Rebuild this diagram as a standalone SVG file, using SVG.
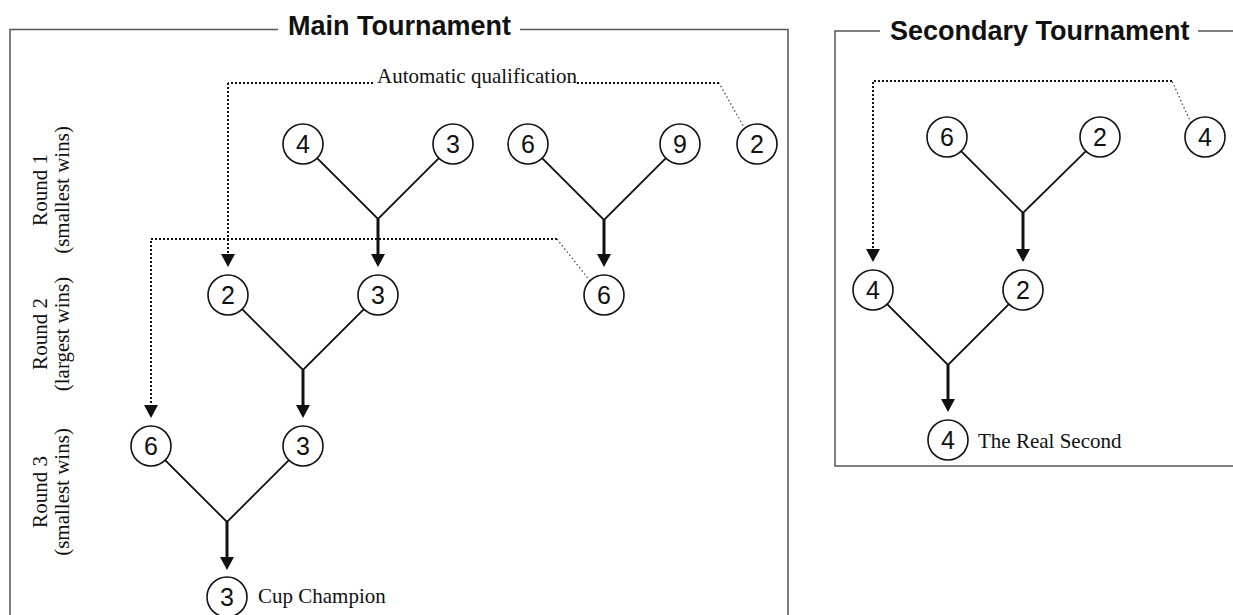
<svg xmlns="http://www.w3.org/2000/svg" width="1233" height="615" viewBox="0 0 1233 615">
<style>
.frame{fill:none;stroke:#555;stroke-width:1.5}
.title{font-family:"Liberation Sans",Arial,sans-serif;font-weight:bold;font-size:27px;fill:#111}
.node circle{fill:#fff;stroke:#111;stroke-width:1.6}
.num{font-family:"Liberation Sans",Arial,sans-serif;font-size:25px;fill:#111;text-anchor:middle}
.branch{fill:none;stroke:#111;stroke-width:1.8}
.adv{fill:none;stroke:#111;stroke-width:3;marker-end:url(#ah)}
.dot{fill:none;stroke:#111;stroke-width:2;stroke-dasharray:2 2}
.dota{fill:none;stroke:#111;stroke-width:2;stroke-dasharray:2 2;marker-end:url(#ah)}
.fine{fill:none;stroke:#444;stroke-width:1.2;stroke-dasharray:1.5 2.5}
.lbl{font-family:"Liberation Serif","Times New Roman",serif;font-size:21px;fill:#111}
.rl{font-family:"Liberation Serif","Times New Roman",serif;font-size:21px;fill:#111;text-anchor:middle}
</style>
<defs>
<marker id="ah" markerUnits="userSpaceOnUse" markerWidth="13" markerHeight="14" viewBox="0 0 13 14" refX="7" refY="7" orient="auto">
<path d="M0,0 L13,7 L0,14 Z" fill="#111"/>
</marker>
</defs>

<g id="frames">
<path class="frame" d="M278,29.5 H10 V615 M520,29.5 H788 V615"/>
<path class="frame" d="M880,31 H835 V466 H1233 M1198,31 H1233"/>
<text class="title" x="288" y="35">Main Tournament</text>
<text class="title" x="890" y="40">Secondary Tournament</text>
</g>

<g id="round-labels">
<g transform="translate(47,190) rotate(-90)"><text class="rl" x="0" y="0">Round 1</text><text class="rl" x="0" y="22">(smallest wins)</text></g>
<g transform="translate(47,334) rotate(-90)"><text class="rl" x="0" y="0">Round 2</text><text class="rl" x="0" y="22">(largest wins)</text></g>
<g transform="translate(47,492) rotate(-90)"><text class="rl" x="0" y="0">Round 3</text><text class="rl" x="0" y="22">(smallest wins)</text></g>
</g>

<g id="connectors">
<path class="fine" d="M745,129 L719,83"/>
<path class="dot" d="M719,83 H577 M373,83 H228"/>
<path class="dota" d="M228,83 V261"/>
<path class="fine" d="M590,281 L557,239"/>
<path class="dota" d="M557,239 H151 V412"/>
<path class="fine" d="M1191,123 L1172,81"/>
<path class="dota" d="M1172,81 H873 V256"/>
<path class="branch" d="M317.1,158.1 L378,219 L438.9,158.1"/>
<path class="branch" d="M542.1,158.1 L604,220 L665.9,158.1"/>
<path class="branch" d="M242.1,309.1 L303,370 L363.9,309.1"/>
<path class="branch" d="M165.1,460.1 L227,522 L288.9,460.1"/>
<path class="adv" d="M378,219 V261"/>
<path class="adv" d="M604,220 V261"/>
<path class="adv" d="M303,370 V412"/>
<path class="adv" d="M227,522 V564"/>
<path class="branch" d="M961.1,151.1 L1023,213 L1085.9,151.1"/>
<path class="branch" d="M887.1,304.1 L948,365 L1008.9,304.1"/>
<path class="adv" d="M1023,213 V256"/>
<path class="adv" d="M948,365 V406"/>
</g>

<text class="lbl" x="377" y="83">Automatic qualification</text>

<g id="m-r1-4" class="node"><circle cx="303" cy="144" r="20"/><text class="num" x="303" y="153">4</text></g>
<g id="m-r1-3" class="node"><circle cx="453" cy="144" r="20"/><text class="num" x="453" y="153">3</text></g>
<g id="m-r1-6" class="node"><circle cx="528" cy="144" r="20"/><text class="num" x="528" y="153">6</text></g>
<g id="m-r1-9" class="node"><circle cx="680" cy="144" r="20"/><text class="num" x="680" y="153">9</text></g>
<g id="m-r1-2" class="node"><circle cx="757" cy="144" r="20"/><text class="num" x="757" y="153">2</text></g>
<g id="m-r2-2" class="node"><circle cx="228" cy="295" r="20"/><text class="num" x="228" y="304">2</text></g>
<g id="m-r2-3" class="node"><circle cx="378" cy="295" r="20"/><text class="num" x="378" y="304">3</text></g>
<g id="m-r2-6" class="node"><circle cx="604" cy="295" r="20"/><text class="num" x="604" y="304">6</text></g>
<g id="m-r3-6" class="node"><circle cx="151" cy="446" r="20"/><text class="num" x="151" y="455">6</text></g>
<g id="m-r3-3" class="node"><circle cx="303" cy="446" r="20"/><text class="num" x="303" y="455">3</text></g>
<g id="m-champ" class="node"><circle cx="227" cy="597" r="20"/><text class="num" x="227" y="606">3</text><text class="lbl" x="258" y="603">Cup Champion</text></g>

<g id="s-r1-6" class="node"><circle cx="947" cy="137" r="20"/><text class="num" x="947" y="146">6</text></g>
<g id="s-r1-2" class="node"><circle cx="1100" cy="137" r="20"/><text class="num" x="1100" y="146">2</text></g>
<g id="s-r1-4" class="node"><circle cx="1205" cy="137" r="20"/><text class="num" x="1205" y="146">4</text></g>
<g id="s-r2-4" class="node"><circle cx="873" cy="290" r="20"/><text class="num" x="873" y="299">4</text></g>
<g id="s-r2-2" class="node"><circle cx="1023" cy="290" r="20"/><text class="num" x="1023" y="299">2</text></g>
<g id="s-second" class="node"><circle cx="948" cy="440" r="20"/><text class="num" x="948" y="449">4</text><text class="lbl" x="978" y="448">The Real Second</text></g>
</svg>
